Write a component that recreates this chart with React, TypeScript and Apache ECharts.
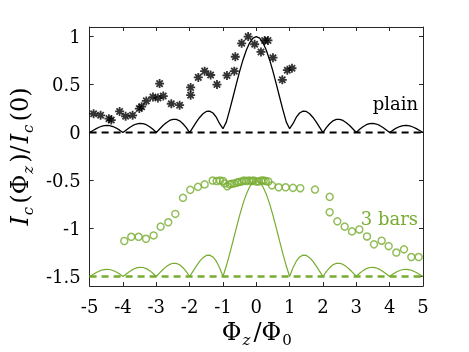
import React, { useEffect, useRef } from "react";
import * as echarts from "echarts";

// Flux grid for the theoretical Fraunhofer curves
const fluxGrid = [
  -5, -4.9, -4.8, -4.7, -4.6, -4.5, -4.4, -4.3, -4.2, -4.1,
  -4, -3.9, -3.8, -3.7, -3.6, -3.5, -3.4, -3.3, -3.2, -3.1,
  -3, -2.9, -2.8, -2.7, -2.6, -2.5, -2.4, -2.3, -2.2, -2.1,
  -2, -1.9, -1.8, -1.7, -1.6, -1.5, -1.4, -1.3, -1.2, -1.1,
  -1, -0.9, -0.8, -0.7, -0.6, -0.5, -0.4, -0.3, -0.2, -0.1,
  0, 0.1, 0.2, 0.3, 0.4, 0.5, 0.6, 0.7, 0.8, 0.9,
  1, 1.1, 1.2, 1.3, 1.4, 1.5, 1.6, 1.7, 1.8, 1.9,
  2, 2.1, 2.2, 2.3, 2.4, 2.5, 2.6, 2.7, 2.8, 2.9,
  3, 3.1, 3.2, 3.3, 3.4, 3.5, 3.6, 3.7, 3.8, 3.9,
  4, 4.1, 4.2, 4.3, 4.4, 4.5, 4.6, 4.7, 4.8, 4.9, 5,
];

// Plain junction: theoretical curve (black solid)
const plainCurve = [
  0, 0.021, 0.041, 0.058, 0.070, 0.075, 0.073, 0.063, 0.047, 0.025,
  0, 0.026, 0.052, 0.074, 0.089, 0.096, 0.094, 0.082, 0.061, 0.034,
  0, 0.037, 0.073, 0.103, 0.126, 0.138, 0.137, 0.122, 0.092, 0.051,
  0, 0.054, 0.108, 0.157, 0.196, 0.220, 0.223, 0.204, 0.160, 0.092,
  0.04, 0.109, 0.234, 0.368, 0.505, 0.637, 0.757, 0.858, 0.935, 0.984,
  1, 0.984, 0.935, 0.858, 0.757, 0.637, 0.505, 0.368, 0.234, 0.109,
  0.04, 0.092, 0.160, 0.204, 0.223, 0.220, 0.196, 0.157, 0.108, 0.054,
  0, 0.051, 0.092, 0.122, 0.137, 0.138, 0.126, 0.103, 0.073, 0.037,
  0, 0.034, 0.061, 0.082, 0.094, 0.096, 0.089, 0.074, 0.052, 0.026,
  0, 0.025, 0.047, 0.063, 0.073, 0.075, 0.070, 0.058, 0.041, 0.021, 0,
];

// 3 bars junction: theoretical curve (green solid), plotted with offset -1.5
const barsCurve = [
  -1.5, -1.479, -1.459, -1.442, -1.430, -1.425, -1.427, -1.437, -1.453, -1.475,
  -1.5, -1.474, -1.448, -1.426, -1.411, -1.404, -1.406, -1.418, -1.439, -1.466,
  -1.5, -1.463, -1.427, -1.397, -1.374, -1.362, -1.363, -1.378, -1.408, -1.449,
  -1.5, -1.446, -1.392, -1.343, -1.304, -1.280, -1.277, -1.296, -1.340, -1.408,
  -1.5, -1.391, -1.266, -1.132, -0.995, -0.863, -0.743, -0.642, -0.565, -0.516,
  -0.5, -0.516, -0.565, -0.642, -0.743, -0.863, -0.995, -1.132, -1.266, -1.391,
  -1.5, -1.408, -1.340, -1.296, -1.277, -1.280, -1.304, -1.343, -1.392, -1.446,
  -1.5, -1.449, -1.408, -1.378, -1.363, -1.362, -1.374, -1.397, -1.427, -1.463,
  -1.5, -1.466, -1.439, -1.418, -1.406, -1.404, -1.411, -1.426, -1.448, -1.474,
  -1.5, -1.475, -1.453, -1.437, -1.427, -1.425, -1.430, -1.442, -1.459, -1.479, -1.5,
];

// Measured data: plain junction (black asterisks)
const plainFlux = [
  -4.88, -4.67, -4.42, -4.35, -4.1, -3.92, -3.71, -3.51, -3.44, -3.3,
  -3.1, -2.95, -2.9, -2.79, -2.55, -2.3, -1.97, -1.97, -1.74, -1.55,
  -1.37, -1.18, -0.88, -0.66, -0.63, -0.44, -0.245, -0.05, 0.14, 0.25,
  0.35, 0.5, 0.78, 0.93, 1.07,
];
const plainIc = [
  0.196, 0.18, 0.145, 0.13, 0.22, 0.17, 0.18, 0.25, 0.27, 0.33,
  0.37, 0.36, 0.51, 0.38, 0.3, 0.285, 0.47, 0.39, 0.575, 0.64,
  0.6, 0.5, 0.595, 0.64, 0.79, 0.93, 1.0, 0.92, 0.84, 0.96,
  0.96, 0.78, 0.55, 0.65, 0.67,
];

// Measured data: 3 bars junction (green circles), offset -1.5
const barsFlux = [
  -3.96, -3.75, -3.53, -3.31, -3.08, -2.87, -2.64, -2.43, -2.2, -1.98,
  -1.75, -1.55, -1.31, -1.19, -1.09, -1.0, -0.95, -0.87, -0.8, -0.74,
  -0.66, -0.58, -0.52, -0.44, -0.37, -0.3, -0.22, -0.14, -0.08, 0.0,
  0.07, 0.15, 0.22, 0.28, 0.36, 0.47, 0.67, 0.88, 1.1, 1.32,
  1.76, 2.2, 2.2, 2.43, 2.65, 2.87, 3.09, 3.32, 3.53, 3.76,
  3.97, 4.2, 4.43, 4.65, 4.87,
];
const barsIc = [
  -1.13, -1.086, -1.086, -1.107, -1.072, -0.98, -0.935, -0.848, -0.68, -0.597,
  -0.566, -0.54, -0.5, -0.505, -0.5, -0.505, -0.53, -0.56, -0.54, -0.535,
  -0.53, -0.52, -0.515, -0.51, -0.5, -0.505, -0.5, -0.505, -0.5, -0.51,
  -0.51, -0.5, -0.5, -0.505, -0.51, -0.55, -0.57, -0.57, -0.576, -0.58,
  -0.594, -0.67, -0.83, -0.925, -0.98, -1.03, -1.01, -1.083, -1.165, -1.127,
  -1.183, -1.25, -1.217, -1.297, -1.297,
];

const xTicks = [-5, -4, -3, -2, -1, 0, 1, 2, 3, 4, 5];
const yTicks = [-1.5, -1, -0.5, 0, 0.5, 1];

const GREEN = "#77AC30";
const AXIS = "#262626";
const FONT = "DejaVu Serif, serif";

const ASTERISK =
  "path://M0,4 H10 V6 H0 Z M4,0 H6 V10 H4 Z M0.8,2.2 L2.2,0.8 L9.2,7.8 L7.8,9.2 Z M7.8,0.8 L9.2,2.2 L2.2,9.2 L0.8,7.8 Z";

export default function App() {
  const ref = useRef<HTMLDivElement>(null);

  useEffect(() => {
    if (!ref.current) return;
    const chart = echarts.init(ref.current, null, { renderer: "svg" });

    const zip = (xs: number[], ys: number[]) => xs.map((x, i) => [x, ys[i]]);

    const rich = {
      i: { fontFamily: FONT, fontSize: 24, fontStyle: "italic", color: "#000", lineHeight: 30, padding: [0, 1, 0, 1] },
      r: { fontFamily: FONT, fontSize: 24, color: "#000", lineHeight: 30, padding: [0, 1, 0, 1] },
      s: { fontFamily: FONT, fontSize: 15, fontStyle: "italic", color: "#000", lineHeight: 12, verticalAlign: "bottom", padding: [0, 2, 0, 0] },
      n: { fontFamily: FONT, fontSize: 15, color: "#000", lineHeight: 12, verticalAlign: "bottom" },
    };

    const axisLine = { show: true, onZero: false, lineStyle: { color: AXIS, width: 1 } };
    const tick = { show: true, inside: true, length: 4, lineStyle: { color: AXIS } };

    chart.setOption({
      animation: false,
      textStyle: { fontFamily: FONT },
      grid: { left: 76, right: 46, top: 27, bottom: 65, containLabel: false },
      xAxis: [
        {
          type: "value",
          min: -5,
          max: 5,
          interval: 1,
          position: "bottom",
          axisLine,
          axisTick: tick,
          axisLabel: { fontFamily: FONT, fontSize: 18, color: "#000", margin: 11 },
          splitLine: { show: false },
          name: "{r|Φ}{s|z}{r|/Φ}{n|0}",
          nameLocation: "middle",
          nameGap: 30,
          nameTextStyle: { rich },
        },
        {
          type: "value",
          min: -5,
          max: 5,
          interval: 1,
          position: "top",
          axisLine,
          axisTick: tick,
          axisLabel: { show: false },
          splitLine: { show: false },
        },
      ],
      yAxis: [
        {
          type: "value",
          min: -1.6,
          max: 1.1,
          position: "left",
          axisLine,
          axisTick: { ...tick, customValues: yTicks },
          axisLabel: {
            fontFamily: FONT,
            fontSize: 18,
            color: "#000",
            margin: 9,
            customValues: yTicks,
            formatter: (v: number) => String(v),
          },
          splitLine: { show: false },
          name: "{i|I}{s|c}{r|(Φ}{s|z}{r|)/}{i|I}{s|c}{r|(0)}",
          nameLocation: "middle",
          nameRotate: 90,
          nameGap: 51,
          nameTextStyle: { rich },
        },
        {
          type: "value",
          min: -1.6,
          max: 1.1,
          position: "right",
          axisLine,
          axisTick: { ...tick, customValues: yTicks },
          axisLabel: { show: false },
          splitLine: { show: false },
        },
      ],
      series: [
        {
          type: "line",
          data: zip(fluxGrid, plainCurve),
          symbol: "none",
          lineStyle: { color: "#000", width: 1.3 },
          z: 2,
        },
        {
          type: "line",
          data: [[xTicks[0], 0], [xTicks[xTicks.length - 1], 0]],
          symbol: "none",
          lineStyle: { color: "#000", width: 2, type: [7, 5] },
          z: 1,
        },
        {
          type: "line",
          data: zip(fluxGrid, barsCurve),
          symbol: "none",
          lineStyle: { color: GREEN, width: 1.2 },
          z: 2,
        },
        {
          type: "line",
          data: [[xTicks[0], -1.5], [xTicks[xTicks.length - 1], -1.5]],
          symbol: "none",
          lineStyle: { color: GREEN, width: 2.5, type: [7, 5] },
          z: 1,
        },
        {
          type: "scatter",
          data: zip(plainFlux, plainIc),
          symbol: ASTERISK,
          symbolSize: 9,
          itemStyle: { color: "#000" },
          z: 3,
        },
        {
          type: "scatter",
          data: zip(barsFlux, barsIc),
          symbol: "circle",
          symbolSize: 7,
          itemStyle: { color: "rgba(0,0,0,0)", borderColor: GREEN, borderWidth: 1.5 },
          z: 3,
        },
      ],
      graphic: [
        {
          type: "text",
          right: 51,
          top: 94,
          style: { text: "plain", fill: "#000", font: "18px DejaVu Serif, serif" },
        },
        {
          type: "text",
          right: 51,
          top: 209,
          style: { text: "3 bars", fill: GREEN, font: "18px DejaVu Serif, serif" },
        },
      ],
    });

    return () => chart.dispose();
  }, []);

  return (
    <div
      ref={ref}
      style={{ position: "fixed", left: 0, top: 0, width: 469, height: 352 }}
    />
  );
}
